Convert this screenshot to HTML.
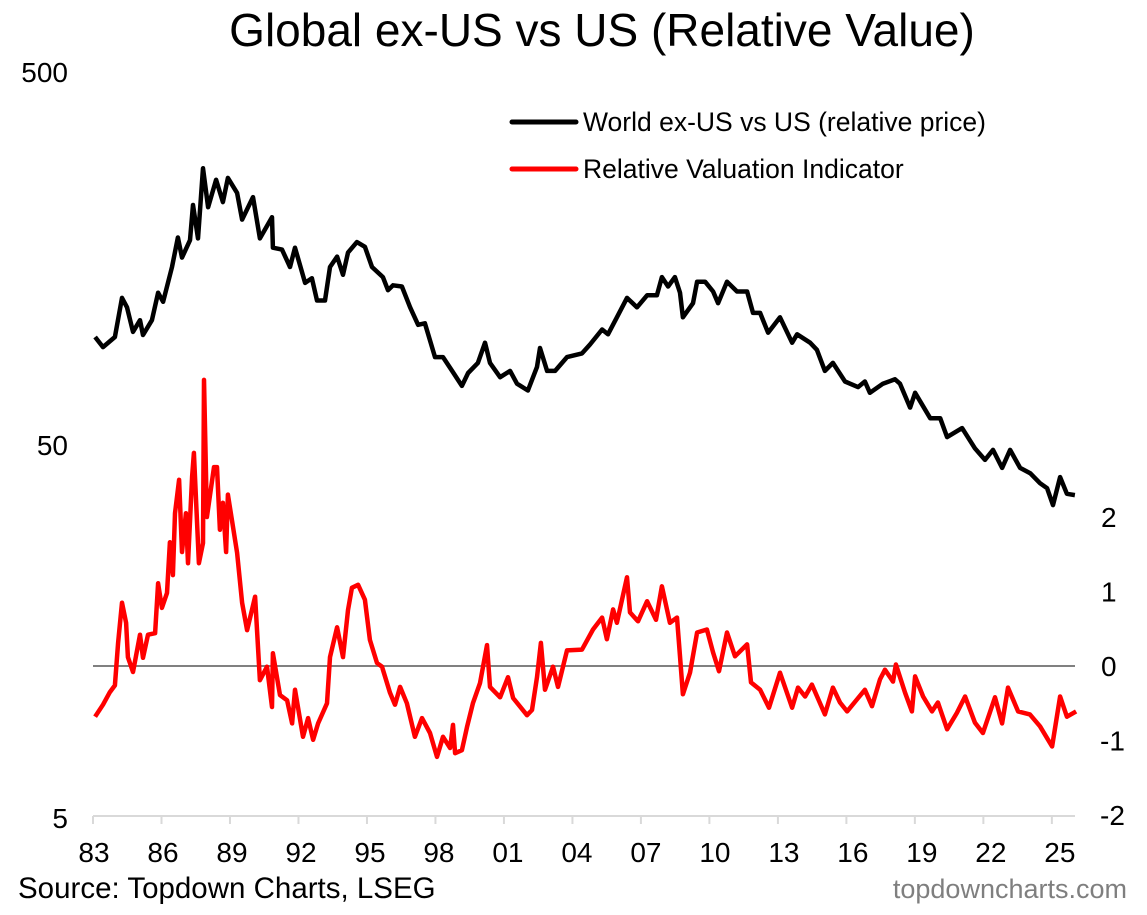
<!DOCTYPE html>
<html><head><meta charset="utf-8">
<style>
body{margin:0;background:#fff;}
svg text{font-family:"Liberation Sans",Arial,sans-serif;}
</style></head>
<body>
<svg id="chart" width="1147" height="910" xmlns="http://www.w3.org/2000/svg">
<rect width="1147" height="910" fill="#fff"/>
<text x="602" y="46" font-size="46" text-anchor="middle" fill="#000">Global ex-US vs US (Relative Value)</text>
<line x1="93" y1="666" x2="1075" y2="666" stroke="#808080" stroke-width="2"/>
<line x1="93" y1="816" x2="1075" y2="816" stroke="#d9d9d9" stroke-width="2"/>
<g id="xaxis"></g>
<g id="yleft"></g>
<g id="yright"></g>
<g id="series"></g>
<g>
<line x1="512" y1="122" x2="576" y2="122" stroke="#000" stroke-width="5" stroke-linecap="round"/>
<text x="583" y="131" font-size="26.5" fill="#000">World ex-US vs US (relative price)</text>
<line x1="512" y1="169" x2="576" y2="169" stroke="#ff0000" stroke-width="5" stroke-linecap="round"/>
<text x="583" y="178" font-size="26.5" fill="#000">Relative Valuation Indicator</text>
</g>
<text x="18" y="898" font-size="29.5" fill="#000">Source: Topdown Charts, LSEG</text>
<text x="1127" y="898" font-size="27" fill="#7f7f7f" text-anchor="end">topdowncharts.com</text>
</svg>
<script>
const xTickLabels=["83","86","89","92","95","98","01","04","07","10","13","16","19","22","25"];
const leftTicks=[500,50,5];
const rightTicks=[2,1,0,-1,-2];
const priceYears=[1983.09,1983.44,1983.96,1984.27,1984.49,1984.75,1985.06,1985.19,1985.58,1985.85,1986.07,1986.46,1986.72,1986.90,1987.25,1987.38,1987.60,1987.82,1988.04,1988.39,1988.69,1988.91,1989.31,1989.53,1990.01,1990.31,1990.84,1990.88,1991.28,1991.63,1991.85,1992.29,1992.59,1992.81,1993.16,1993.38,1993.69,1993.95,1994.17,1994.56,1994.91,1995.22,1995.70,1995.92,1996.14,1996.53,1996.89,1997.24,1997.54,1997.98,1998.33,1998.73,1999.16,1999.43,1999.86,2000.17,2000.39,2000.83,2001.27,2001.57,2002.05,2002.45,2002.58,2002.89,2003.24,2003.76,2004.42,2004.77,2005.30,2005.56,2005.95,2006.39,2006.83,2007.27,2007.70,2007.92,2008.19,2008.49,2008.71,2008.84,2009.28,2009.46,2009.81,2010.16,2010.38,2010.77,2011.21,2011.65,2011.91,2012.22,2012.57,2013.09,2013.62,2013.84,2014.41,2014.71,2015.06,2015.41,2015.94,2016.51,2016.81,2017.03,2017.60,2018.13,2018.35,2018.79,2019.01,2019.67,2020.11,2020.41,2021.07,2021.63,2022.07,2022.42,2022.82,2023.17,2023.61,2024.05,2024.48,2024.79,2025.05,2025.36,2025.66,2026.01];
const priceValues=[97.4,91.5,97.4,124,117,100.5,108,98.6,108,128,121,150,180,159,177,220,179,276,217,257,224,260,237,201,231,179,204,169,167,150,169,136,140,122,122,150,160,143,164,175,170,150,141,130,134,133,117,105,106,86,86,79,72,78,83,94,83,76,79,73,70,81,91,79,79,86,88,93,102,99,110,124,117,126,126,141,133,141,128,110,120,137,137,129,120,137,129,129,113,113,100,110,94,99,94,90,79,83,74,71.5,74,69,73,75,73,63,69,59,59,52.5,55.5,49,45.6,48.5,43.4,48.5,43.4,42,39.5,38.3,34.5,41,37,36.7];
const valYears=[1983.09,1983.44,1983.74,1983.96,1984.10,1984.27,1984.45,1984.53,1984.75,1985.06,1985.19,1985.41,1985.72,1985.85,1986.02,1986.24,1986.37,1986.50,1986.59,1986.77,1986.90,1987.07,1987.16,1987.34,1987.42,1987.64,1987.82,1987.86,1987.99,1988.30,1988.43,1988.56,1988.69,1988.83,1988.91,1989.31,1989.53,1989.75,1989.96,1990.10,1990.31,1990.62,1990.84,1990.88,1991.19,1991.50,1991.72,1991.85,1992.20,1992.42,1992.64,1992.86,1993.25,1993.38,1993.69,1993.95,1994.17,1994.34,1994.61,1994.91,1995.13,1995.44,1995.66,1996.01,1996.23,1996.45,1996.75,1997.10,1997.41,1997.76,1998.07,1998.33,1998.64,1998.77,1998.86,1999.16,1999.38,1999.64,1999.95,2000.26,2000.39,2000.83,2001.18,2001.40,2002.01,2002.23,2002.45,2002.62,2002.80,2003.15,2003.37,2003.76,2004.42,2004.90,2005.30,2005.51,2005.78,2005.95,2006.39,2006.52,2006.87,2007.27,2007.66,2007.92,2008.27,2008.58,2008.71,2008.84,2009.15,2009.46,2009.89,2010.16,2010.42,2010.77,2011.12,2011.65,2011.82,2012.22,2012.61,2013.09,2013.62,2013.88,2014.19,2014.49,2015.06,2015.41,2015.72,2016.03,2016.46,2016.81,2017.12,2017.47,2017.69,2018.04,2018.17,2018.57,2018.87,2019.01,2019.36,2019.75,2020.01,2020.41,2020.84,2021.20,2021.63,2021.98,2022.51,2022.82,2023.08,2023.52,2024.04,2024.48,2025.01,2025.36,2025.66,2026.06];
const valValues=[-0.68,-0.52,-0.35,-0.26,0.31,0.85,0.58,0.12,-0.08,0.42,0.11,0.42,0.44,1.11,0.78,0.98,1.66,1.22,2.05,2.50,1.53,2.05,1.38,2.54,2.86,1.38,1.65,3.84,2.00,2.67,2.67,1.83,2.19,1.53,2.30,1.52,0.85,0.48,0.75,0.93,-0.19,-0.01,-0.55,0.17,-0.39,-0.46,-0.77,-0.32,-0.95,-0.70,-0.99,-0.77,-0.50,0.12,0.52,0.12,0.75,1.05,1.09,0.89,0.35,0.04,-0.01,-0.36,-0.52,-0.28,-0.50,-0.95,-0.70,-0.90,-1.22,-0.95,-1.10,-0.79,-1.17,-1.13,-0.82,-0.50,-0.23,0.28,-0.28,-0.42,-0.15,-0.43,-0.66,-0.59,-0.15,0.31,-0.32,-0.01,-0.28,0.21,0.22,0.49,0.65,0.36,0.76,0.58,1.19,0.72,0.60,0.87,0.62,1.07,0.58,0.65,0.13,-0.38,-0.09,0.45,0.49,0.18,-0.07,0.45,0.13,0.29,-0.22,-0.32,-0.56,-0.09,-0.56,-0.29,-0.41,-0.25,-0.65,-0.29,-0.49,-0.61,-0.45,-0.32,-0.54,-0.18,-0.05,-0.21,0.02,-0.36,-0.61,-0.14,-0.41,-0.61,-0.49,-0.85,-0.63,-0.41,-0.76,-0.90,-0.42,-0.77,-0.29,-0.61,-0.65,-0.81,-1.08,-0.41,-0.68,-0.61];

const NS="http://www.w3.org/2000/svg";
const X0=93,PXY=22.83;
function xs(yr){return X0+(yr-1983)*PXY;}
function yl(v){return 72+(Math.log10(500)-Math.log10(v))*373;}
function yr(v){return 666-v*74.5;}
function mk(tag,attrs,parent){const e=document.createElementNS(NS,tag);for(const k in attrs)e.setAttribute(k,attrs[k]);parent.appendChild(e);return e;}

const xg=document.getElementById('xaxis');
for(let i=0;i<xTickLabels.length;i++){
  const x=xs(1983+3*i);
  const t=mk('line',{x1:x,y1:816,x2:x,y2:824,stroke:'#d9d9d9','stroke-width':2},xg);
  
  
  const l=mk('text',{x:x+1+i*0.5,y:862,'font-size':28,'text-anchor':'middle',fill:'#000'},xg);
  l.textContent=xTickLabels[i];
  
  
}
const lg=document.getElementById('yleft');
leftTicks.forEach(v=>{
  const l=mk('text',{x:68,y:yl(v)+10,'font-size':28,'text-anchor':'end',fill:'#000'},lg);
  l.textContent=v;
  
  
});
const rg=document.getElementById('yright');
rightTicks.forEach(v=>{
  const l=mk('text',{x:v<0?1100:1101,y:yr(v)+10,'font-size':28,'text-anchor':'start',fill:'#000'},rg);
  l.textContent=v;
  
  
});
const sg=document.getElementById('series');
let d1=priceYears.map((y,i)=>(i?'L':'M')+xs(y).toFixed(1)+','+yl(priceValues[i]).toFixed(1)).join('');
const p1=mk('path',{d:d1,fill:'none',stroke:'#000','stroke-width':4.5,'stroke-linejoin':'round'},sg);


let d2=valYears.map((y,i)=>(i?'L':'M')+xs(y).toFixed(1)+','+yr(valValues[i]).toFixed(1)).join('');
const p2=mk('path',{d:d2,fill:'none',stroke:'#ff0000','stroke-width':4.5,'stroke-linejoin':'round'},sg);


</script>
</body></html>
